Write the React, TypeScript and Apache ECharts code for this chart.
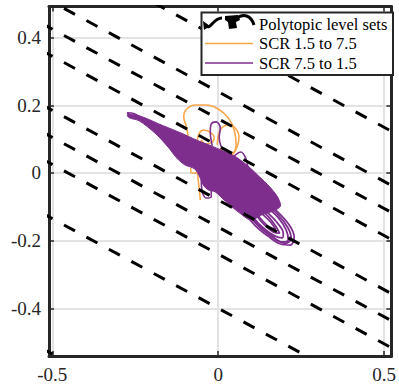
import React, { useEffect, useRef } from "react";
import * as echarts from "echarts";

// ---- axis ranges & ticks ----
const xRange = [-0.51, 0.522];
const yRange = [-0.541, 0.492];
const xTicks = [-0.5, 0, 0.5];
const yTicks = [-0.4, -0.2, 0, 0.2, 0.4];

// ---- polytopic level sets: parallel lines y = slope * x + offset ----
const levelSlope = -0.53;
const levelOffsets = [-0.8, -0.4, -0.24, -0.16, -0.08, 0.08, 0.16, 0.24, 0.4];
const levelXEnds = [-0.6, 0.6];

// ---- SCR 1.5 to 7.5 (orange) trajectory pieces ----
const orangeBigLoop = [
  [-0.089, 0.098], [-0.095, 0.133], [-0.104, 0.166], [-0.095, 0.189], [-0.068, 0.201],
  [-0.036, 0.201], [0.0, 0.189], [0.03, 0.163], [0.048, 0.127], [0.054, 0.083],
  [0.039, 0.047], [0.018, 0.038], [-0.006, 0.05],
];
const orangeLoopA = [
  [-0.065, 0.083], [-0.057, 0.118], [-0.042, 0.127], [-0.021, 0.118], [-0.012, 0.104],
  [-0.021, 0.089], [-0.039, 0.086], [-0.051, 0.098], [-0.048, 0.068],
];
const orangeLoopB = [
  [-0.003, 0.083], [0.006, 0.127], [0.03, 0.142], [0.051, 0.133], [0.0625, 0.107],
  [0.057, 0.077], [0.042, 0.059], [0.021, 0.059], [0.006, 0.074],
];
const orangeLower = [
  [-0.083, 0.015], [-0.08, 0.0], [-0.065, 0.0], [-0.06, -0.024], [-0.057, -0.05], [-0.054, -0.08],
];

// ---- SCR 7.5 to 1.5 (purple) trajectory ----
const purpleBlob = [
  [-0.274, 0.172], [-0.238, 0.169], [-0.179, 0.145], [-0.119, 0.121], [-0.06, 0.095],
  [-0.021, 0.08], [0.015, 0.065], [0.054, 0.047], [0.089, 0.021], [0.125, -0.012],
  [0.155, -0.041], [0.179, -0.071], [0.1875, -0.098], [0.167, -0.112], [0.131, -0.124],
  [0.098, -0.139], [0.06, -0.115], [0.021, -0.083], [-0.009, -0.056], [-0.03, -0.05],
  [-0.045, -0.036], [-0.057, -0.009], [-0.071, 0.012], [-0.101, 0.024], [-0.125, 0.044],
  [-0.149, 0.074], [-0.1875, 0.115], [-0.238, 0.154], [-0.268, 0.163],
];
const purpleLoop1 = [
  [0.083, -0.044], [0.134, -0.08], [0.179, -0.115], [0.214, -0.154], [0.229, -0.189],
  [0.217, -0.213], [0.1875, -0.21], [0.149, -0.186], [0.113, -0.157], [0.083, -0.121],
  [0.065, -0.086], [0.071, -0.056], [0.083, -0.044],
];
const purpleLoop1b = [
  [0.09, -0.055], [0.136, -0.088], [0.18, -0.123], [0.21, -0.162], [0.22, -0.194],
  [0.203, -0.208], [0.172, -0.196], [0.136, -0.17], [0.104, -0.139], [0.08, -0.104],
  [0.078, -0.07], [0.09, -0.055],
];
const purpleLoop2 = [
  [0.095, -0.065], [0.137, -0.095], [0.179, -0.13], [0.205, -0.169], [0.211, -0.198],
  [0.193, -0.204], [0.158, -0.183], [0.122, -0.154], [0.095, -0.121], [0.08, -0.092],
  [0.095, -0.065],
];
const purpleLoop3 = [
  [0.107, -0.083], [0.143, -0.112], [0.176, -0.145], [0.196, -0.178], [0.193, -0.192],
  [0.17, -0.186], [0.137, -0.163], [0.11, -0.136], [0.095, -0.107], [0.107, -0.083],
];
const purpleLoop4 = [
  [0.116, -0.101], [0.149, -0.127], [0.173, -0.157], [0.185, -0.178], [0.167, -0.175],
  [0.14, -0.154], [0.119, -0.13], [0.11, -0.112], [0.116, -0.101],
];
const purpleLoop5 = [
  [0.125, -0.115], [0.155, -0.142], [0.173, -0.166], [0.158, -0.163], [0.134, -0.142],
  [0.122, -0.124], [0.125, -0.115],
];
const purpleTopLoop = [
  [-0.018, 0.08], [-0.024, 0.121], [-0.021, 0.145], [-0.006, 0.151], [0.006, 0.133],
  [0.003, 0.104], [0.009, 0.077],
];
const purpleRightLoop = [
  [0.048, 0.05], [0.068, 0.062], [0.083, 0.044], [0.089, 0.015], [0.077, 0.003], [0.0625, 0.021],
];
const purpleLowerLoop = [
  [-0.051, -0.021], [-0.048, -0.056], [-0.036, -0.074], [-0.021, -0.071], [-0.021, -0.044],
];
const purpleTip = [
  [-0.223, 0.157], [-0.253, 0.175], [-0.274, 0.178], [-0.265, 0.169], [-0.238, 0.163],
];

const NAME_LEVEL = "Polytopic level sets";
const NAME_UP = "SCR 1.5 to 7.5";
const NAME_DOWN = "SCR 7.5 to 1.5";

const ORANGE = "#F8A64B";
const PURPLE = "#7E2F8E";
const AXIS = "#262626";
const GRID = "#e3e3e3";
const FONT = "Liberation Serif";

export default function App() {
  const ref = useRef<HTMLDivElement>(null);

  useEffect(() => {
    if (!ref.current) return;
    const chart = echarts.init(ref.current, undefined, { renderer: "svg" });

    const lineSeries = (name: string, data: number[][], color: string, width: number, smooth = 0.35) => ({
      type: "line",
      name,
      data,
      showSymbol: false,
      symbol: "none",
      smooth,
      clip: true,
      lineStyle: { color, width },
      itemStyle: { color },
      z: 3,
    });

    const levelSeries = levelOffsets.map((c) => ({
      type: "line",
      name: NAME_LEVEL,
      data: levelXEnds.map((x) => [x, levelSlope * x + c]),
      showSymbol: false,
      symbol: "none",
      clip: true,
      lineStyle: { color: "#000", width: 3, type: [12.5, 13], cap: "butt" },
      itemStyle: { color: "#000" },
      z: 6,
    }));

    const axisCommon = {
      type: "value",
      axisLine: { show: true, onZero: false, lineStyle: { color: AXIS, width: 3 } },
      axisTick: { show: true, inside: true, length: 5, lineStyle: { color: AXIS, width: 1.5 } },
    };

    const legendText = (text: string, y: number) => ({
      type: "text",
      x: 259,
      y,
      style: {
        text,
        fill: "#000",
        font: `16.5px '${FONT}', serif`,
        verticalAlign: "middle",
        align: "left",
      },
      z: 102,
    });

    const option: any = {
      animation: false,
      backgroundColor: "#fff",
      grid: { left: 49, right: 3.5, top: 6.5, bottom: 34, containLabel: false },
      xAxis: [
        {
          ...axisCommon,
          position: "bottom",
          min: xRange[0],
          max: xRange[1],
          axisTick: { ...axisCommon.axisTick, customValues: xTicks },
          axisLabel: {
            customValues: xTicks,
            margin: 9,
            fontFamily: FONT,
            fontSize: 19,
            color: AXIS,
            formatter: (v: number) => String(v),
          },
          splitLine: { show: true, lineStyle: { color: GRID, width: 2 } },
        },
        {
          ...axisCommon,
          position: "top",
          min: xRange[0],
          max: xRange[1],
          axisTick: { ...axisCommon.axisTick, customValues: xTicks },
          axisLabel: { show: false, customValues: xTicks },
          splitLine: { show: false },
        },
      ],
      yAxis: [
        {
          ...axisCommon,
          position: "left",
          min: yRange[0],
          max: yRange[1],
          axisTick: { ...axisCommon.axisTick, customValues: yTicks },
          axisLabel: {
            customValues: yTicks,
            margin: 8,
            fontFamily: FONT,
            fontSize: 19,
            color: AXIS,
            formatter: (v: number) => String(v),
          },
          splitLine: { show: true, lineStyle: { color: GRID, width: 2 } },
        },
        {
          ...axisCommon,
          position: "right",
          min: yRange[0],
          max: yRange[1],
          axisTick: { ...axisCommon.axisTick, customValues: yTicks },
          axisLabel: { show: false, customValues: yTicks },
          splitLine: { show: false },
        },
      ],
      graphic: [
        {
          type: "group",
          z: 100,
          children: [
            {
              type: "rect",
              shape: { x: 201.5, y: 12.5, width: 191.5, height: 62.5 },
              style: { fill: "#fff", stroke: AXIS, lineWidth: 2 },
              z: 100,
            },
            // level-set icon
            {
              type: "bezierCurve",
              shape: { x1: 206, y1: 26, cpx1: 211, cpy1: 30, cpx2: 213, cpy2: 18, x2: 222, y2: 18 },
              style: { stroke: "#000", lineWidth: 3, fill: null },
              z: 101,
            },
            {
              type: "polygon",
              shape: { points: [[203, 21], [210, 26], [204, 30]] },
              style: { fill: "#000" },
              z: 101,
            },
            {
              type: "polygon",
              shape: {
                points: [[225, 16], [238, 15], [240, 20], [236, 22], [237, 28], [229, 29], [228, 22], [225, 20]],
              },
              style: { fill: "#000" },
              z: 101,
            },
            {
              type: "bezierCurve",
              shape: { x1: 236, y1: 19, cpx1: 243, cpy1: 13, cpx2: 251, cpy2: 15, x2: 254, y2: 25 },
              style: { stroke: "#000", lineWidth: 3, fill: null },
              z: 101,
            },
            {
              type: "line",
              shape: { x1: 205, y1: 43.5, x2: 253, y2: 43.5 },
              style: { stroke: ORANGE, lineWidth: 1.6 },
              z: 101,
            },
            {
              type: "line",
              shape: { x1: 205, y1: 63, x2: 253, y2: 63 },
              style: { stroke: PURPLE, lineWidth: 1.6 },
              z: 101,
            },
            legendText(NAME_LEVEL, 24),
            legendText(NAME_UP, 43.5),
            legendText(NAME_DOWN, 63),
          ],
        },
      ],
      series: [
        lineSeries(NAME_UP, orangeBigLoop, ORANGE, 1.6),
        lineSeries(NAME_UP, orangeLoopA, ORANGE, 1.6),
        lineSeries(NAME_UP, orangeLoopB, ORANGE, 1.6),
        lineSeries(NAME_UP, orangeLower, ORANGE, 1.6),
        lineSeries(NAME_DOWN, purpleLoop1, PURPLE, 1.8),
        lineSeries(NAME_DOWN, purpleLoop1b, PURPLE, 1.8),
        lineSeries(NAME_DOWN, purpleLoop2, PURPLE, 1.8),
        lineSeries(NAME_DOWN, purpleLoop3, PURPLE, 1.8),
        lineSeries(NAME_DOWN, purpleLoop4, PURPLE, 1.8),
        lineSeries(NAME_DOWN, purpleLoop5, PURPLE, 1.8),
        lineSeries(NAME_DOWN, purpleTopLoop, PURPLE, 1.6),
        lineSeries(NAME_DOWN, purpleRightLoop, PURPLE, 1.6),
        lineSeries(NAME_DOWN, purpleLowerLoop, PURPLE, 1.6),
        lineSeries(NAME_DOWN, purpleTip, PURPLE, 1.6),
        {
          type: "custom",
          name: NAME_DOWN,
          data: purpleBlob,
          clip: true,
          z: 4,
          renderItem: (params: any, api: any) => {
            if (params.dataIndex !== 0) return null;
            return {
              type: "polygon",
              shape: { points: purpleBlob.map((p) => api.coord(p)), smooth: 0.3 },
              style: { fill: PURPLE, stroke: PURPLE, lineWidth: 1 },
            };
          },
        },
        ...levelSeries,
      ],
    };

    chart.setOption(option);
    return () => chart.dispose();
  }, []);

  return (
    <div
      ref={ref}
      style={{ position: "fixed", left: 0, top: 0, width: 399, height: 390, background: "#fff" }}
    />
  );
}
